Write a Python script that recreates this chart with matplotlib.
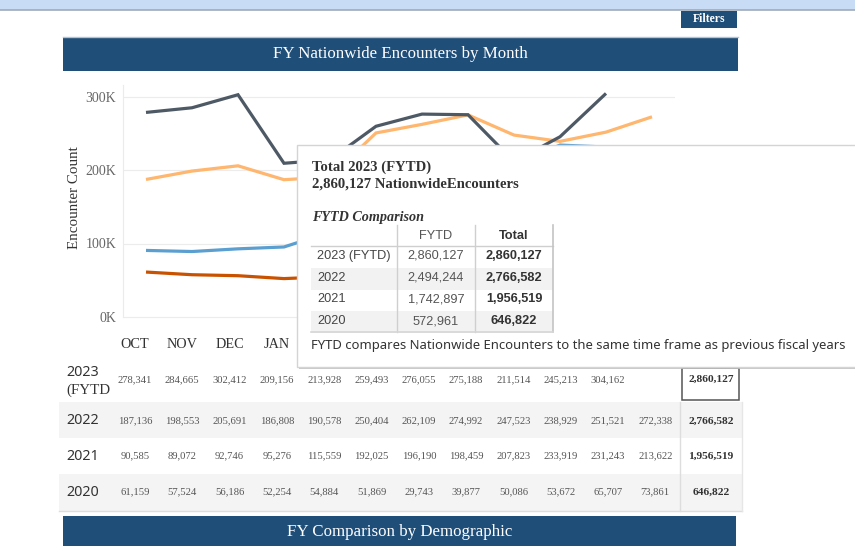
import matplotlib
matplotlib.use("Agg")
import matplotlib.pyplot as plt
from matplotlib.patches import Rectangle

# ---------------- data ----------------
months = ["OCT", "NOV", "DEC", "JAN", "FEB", "MAR", "APR", "MAY", "JUN", "JUL", "AUG", "SEP"]
years = ["2023 (FYTD)", "2022", "2021", "2020"]
fy2023 = [278341, 284665, 302412, 209156, 213928, 259493, 276055, 275188, 211514, 245213, 304162]
fy2022 = [187136, 198553, 205691, 186808, 190578, 250404, 262109, 274992, 247523, 238929, 251521, 272338]
fy2021 = [90585, 89072, 92746, 95276, 115559, 192025, 196190, 198459, 207823, 233919, 231243, 213622]
fy2020 = [61159, 57524, 56186, 52254, 54884, 51869, 29743, 39877, 50086, 53672, 65707, 73861]
totals = [2860127, 2766582, 1956519, 646822]
fytd = [2860127, 2494244, 1742897, 572961]
yticks = [0, 100000, 200000, 300000]
ytick_labels = ["0K", "100K", "200K", "300K"]

series = [fy2023, fy2022, fy2021, fy2020]
colors = ["#4e5966", "#ffb66e", "#5b9fd1", "#c85200"]

W, H = 855, 546
NAVY = "#1f4e79"
SERIF = ["Liberation Serif", "DejaVu Serif"]
SANS = ["Liberation Sans", "DejaVu Sans"]
TIP_LEFT, TIP_TOP, TIP_BOTTOM = 297, 145, 367

fig = plt.figure(figsize=(W / 100, H / 100), dpi=100)
fig.patch.set_facecolor("white")

# ---------------- background layer ----------------
bg = fig.add_axes([0, 0, 1, 1], zorder=0)
bg.set_xlim(0, W)
bg.set_ylim(H, 0)
bg.axis("off")

bg.add_patch(Rectangle((0, 0), W, 10, color="#c9dcf5", lw=0))
bg.plot([0, W], [10, 10], color="#9fabbb", lw=1.2)

bg.add_patch(Rectangle((681, 11), 56, 17, color=NAVY, lw=0))
bg.text(709, 19.5, "Filters", color="white", fontsize=8.5, fontweight="bold",
        family=SERIF, ha="center", va="center")

bg.plot([63, 738], [36.5, 36.5], color="#b7c2cf", lw=1)
bg.add_patch(Rectangle((63, 37), 675, 34, color=NAVY, lw=0))
bg.text(400, 54, "FY Nationwide Encounters by Month", color="white", fontsize=12.2,
        family=SERIF, ha="center", va="center")

# bottom table
row_tops = [365, 402, 438, 474]
row_h = [37, 36, 36, 37]
row_y = [374, 421, 456, 492]
col_x = [135 + 47.3 * i for i in range(12)]
total_x = 711

# month header labels (aligned with the table columns); those hidden by the tooltip are not drawn
for i, m in enumerate(months):
    if col_x[i] + 15 < TIP_LEFT:
        bg.text(col_x[i], 345, m, family=SERIF, fontsize=10.3, color="#333333",
                ha="center", va="center")

for r, yr in enumerate(years):
    if r % 2 == 1:
        bg.add_patch(Rectangle((59, row_tops[r]), 683, row_h[r], color="#f4f4f4", lw=0))
bg.plot([59, 742], [511, 511], color="#dddddd", lw=1)
bg.plot([680, 680], [402, 511], color="#dddddd", lw=1)
bg.plot([742, 742], [402, 511], color="#e6e6e6", lw=1)

for r, yr in enumerate(years):
    if r == 0:
        bg.text(66, 373, "2023", fontsize=10.3, family=["Noto Sans", "DejaVu Sans"],
                color="#333333", ha="left", va="center")
        bg.text(66, 390, "(FYTD", fontsize=10.8, family=SERIF,
                color="#333333", ha="left", va="center")
    else:
        bg.text(66, row_y[r], yr, fontsize=10.3, family=["Noto Sans", "DejaVu Sans"],
                color="#333333", ha="left", va="center")
    vals = series[r]
    yv = 380 if r == 0 else row_y[r]
    for i, v in enumerate(vals):
        bg.text(col_x[i], yv, f"{v:,}", fontsize=7.7, family=SERIF, color="#555555",
                ha="center", va="center")
    bg.text(total_x, yv + (-1 if r == 0 else 0), f"{totals[r]:,}", fontsize=8.2, family=SERIF,
            color="#333333", fontweight="bold", ha="center", va="center")
bg.add_patch(Rectangle((682, 368), 57, 32, fill=False, ec="#555555", lw=1.1))

bg.add_patch(Rectangle((63, 516), 673, 30, color=NAVY, lw=0))
bg.text(400, 532, "FY Comparison by Demographic", color="white", fontsize=12.2,
        family=SERIF, ha="center", va="center")

# ---------------- chart ----------------
L, R, T, B = 123, 675, 85, 322
ax = fig.add_axes([L / W, 1 - B / H, (R - L) / W, (B - T) / H], zorder=1)
ax.patch.set_alpha(0)
px_per_k = 0.735
y0 = 317
ax.set_xlim(-0.5, 11.5)
ax.set_ylim(-(B - y0) / px_per_k * 1000, (y0 - T) / px_per_k * 1000)
for s, c in zip(series[::-1], colors[::-1]):
    ax.plot(range(len(s)), s, color=c, lw=2.3, solid_capstyle="butt", solid_joinstyle="miter")
ax.set_yticks(yticks)
ax.set_yticklabels(ytick_labels, family=SERIF, fontsize=10, color="#666666")
ax.set_xticks([])
ax.tick_params(axis="y", length=0, pad=5)
ax.grid(axis="y", color="#ececec", lw=0.8)
ax.set_axisbelow(True)
for sp in ["top", "right", "bottom"]:
    ax.spines[sp].set_visible(False)
ax.spines["left"].set_color("#ebebeb")
ax.spines["left"].set_bounds(0, ax.get_ylim()[1])
ax.set_ylabel("Encounter Count", family=SERIF, fontsize=10.8, color="#333333")
ax.yaxis.set_label_coords((81 - L) / (R - L), (B - 198) / (B - T))

# ---------------- tooltip ----------------
tp = fig.add_axes([0, 0, 1, 1], zorder=3)
tp.set_xlim(0, W)
tp.set_ylim(H, 0)
tp.axis("off")
tp.patch.set_alpha(0)
tp.add_patch(Rectangle((TIP_LEFT + 2, TIP_TOP + 2), 600, TIP_BOTTOM - TIP_TOP,
                       color="#bdbdbd", lw=0, alpha=0.8))
tp.add_patch(Rectangle((TIP_LEFT, TIP_TOP), 600, TIP_BOTTOM - TIP_TOP,
                       fc="white", ec="#d4d4d4", lw=1))

tp.text(312, 167, "Total 2023 (FYTD)", family=SERIF, fontsize=10.6, fontweight="bold",
        color="#333333", ha="left", va="center")
tp.text(312, 184, f"{totals[0]:,} NationwideEncounters", family=SERIF, fontsize=10.6,
        fontweight="bold", color="#333333", ha="left", va="center")
tp.text(312, 217, "FYTD Comparison", family=SERIF, fontsize=10.2, fontweight="bold",
        style="italic", color="#333333", ha="left", va="center")

t_rows = [256, 278, 299, 321]
t_top = [246, 268, 289, 311]
for r in range(4):
    if r % 2 == 1:
        tp.add_patch(Rectangle((311, t_top[r]), 242, 21.5, color="#f2f2f2", lw=0))
tp.plot([311, 553], [246, 246], color="#cfcfcf", lw=1)
for xv in [397, 475]:
    tp.plot([xv, xv], [225, 332], color="#cfcfcf", lw=1)
tp.plot([553, 553], [225, 332], color="#c4c4c4", lw=1.2)
tp.plot([311, 553], [332, 332], color="#d6d6d6", lw=1.2)
tp.text(436, 236, "FYTD", family=SANS, fontsize=9.2, color="#555555", ha="center", va="center")
tp.text(514, 236, "Total", family=SANS, fontsize=9.2, fontweight="bold", color="#333333",
        ha="center", va="center")
for r, yr in enumerate(years):
    tp.text(317, t_rows[r], yr, family=SANS, fontsize=9.2, color="#444444", ha="left", va="center")
    tp.text(436, t_rows[r], f"{fytd[r]:,}", family=SANS, fontsize=9.2, color="#555555",
            ha="center", va="center")
    tp.text(514, t_rows[r], f"{totals[r]:,}", family=SANS, fontsize=9.2, fontweight="bold",
            color="#333333", ha="center", va="center")

tp.text(311, 346, "FYTD compares Nationwide Encounters to the same time frame as previous fiscal years",
        family=["Noto Sans", "DejaVu Sans"], fontsize=9.4, color="#333333", ha="left", va="center")

fig.savefig("out.png", dpi=100)
